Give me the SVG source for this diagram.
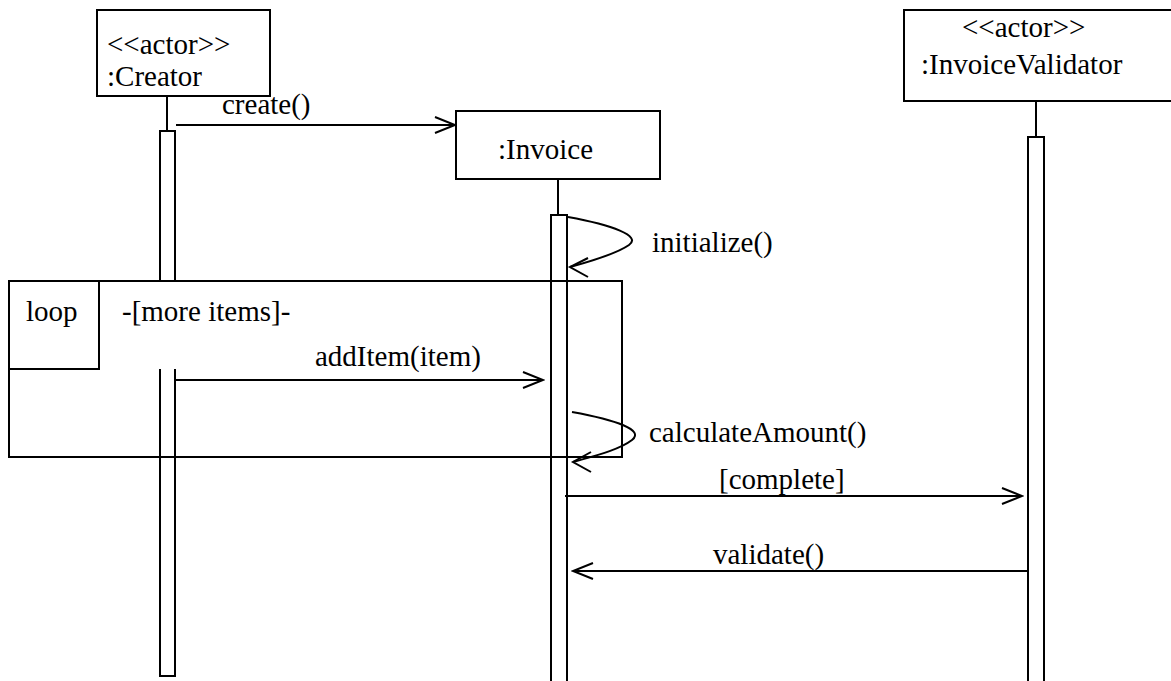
<svg xmlns="http://www.w3.org/2000/svg" width="1171" height="681" viewBox="0 0 1171 681">
<style>
  .box { fill: #ffffff; stroke: #000000; stroke-width: 2; }
  .ln { fill: none; stroke: #000000; stroke-width: 2; }
  text { font-family: 'Liberation Serif', 'Times New Roman', 'DejaVu Serif', serif; font-size: 29px; fill: #000000; }
</style>
<defs>
  <marker id="open" markerWidth="24" markerHeight="20" refX="22" refY="10" orient="auto" markerUnits="userSpaceOnUse">
    <path d="M2,2 L22,10 L2,18" fill="none" stroke="#000" stroke-width="2"/>
  </marker>
</defs>
<rect width="1171" height="681" fill="#ffffff"/>

<g id="loop-frame">
  <rect class="ln" x="9" y="281" width="613" height="176"/>
  <path class="ln" d="M9,369 H99 V281"/>
  <text x="26" y="321">loop</text>
  <text x="122" y="321">-[more items]-</text>
</g>

<g id="creator">
  <rect class="box" x="97" y="10" width="173" height="86"/>
  <text x="107" y="54">&lt;&lt;actor&gt;&gt;</text>
  <text x="107" y="86">:Creator</text>
  <line class="ln" x1="167" y1="96" x2="167" y2="131"/>
  <path class="ln" d="M160,281 V131 H175 V281"/>
  <path class="ln" d="M160,369 V676 H175 V369"/>
</g>

<g id="invoice">
  <rect class="box" x="456" y="111" width="204" height="68"/>
  <text x="498" y="159">:Invoice</text>
  <line class="ln" x1="558" y1="179" x2="558" y2="215"/>
  <path class="ln" d="M551,690 V215 H567 V690"/>
</g>

<g id="validator">
  <rect class="box" x="904" y="10" width="275" height="91"/>
  <text x="962" y="37">&lt;&lt;actor&gt;&gt;</text>
  <text x="921" y="74">:InvoiceValidator</text>
  <line class="ln" x1="1036" y1="101" x2="1036" y2="137"/>
  <path class="ln" d="M1028,690 V137 H1044 V690"/>
</g>

<g id="connectors">
  <line class="ln" x1="176" y1="125" x2="455" y2="125" marker-end="url(#open)"/>
  <text x="222" y="114">create()</text>

  <path class="ln" d="M568,217 C612,225 642,236 629,245 C616,254 592,261 570,267"/>
  <path class="ln" d="M588,258 L570,267 L588,277"/>
  <text x="652" y="252">initialize()</text>

  <line class="ln" x1="176" y1="380" x2="543" y2="380" marker-end="url(#open)"/>
  <text x="315" y="366">addItem(item)</text>

  <path class="ln" d="M572,412 C616,420 645,430 632,440 C619,450 594,456 573,462"/>
  <path class="ln" d="M591,452 L573,462 L591,472"/>
  <text x="649" y="442">calculateAmount()</text>

  <line class="ln" x1="565" y1="496" x2="1022" y2="496" marker-end="url(#open)"/>
  <text x="719" y="489">[complete]</text>

  <line class="ln" x1="1028" y1="571" x2="573" y2="571" marker-end="url(#open)"/>
  <text x="713" y="564">validate()</text>
</g>
</svg>
